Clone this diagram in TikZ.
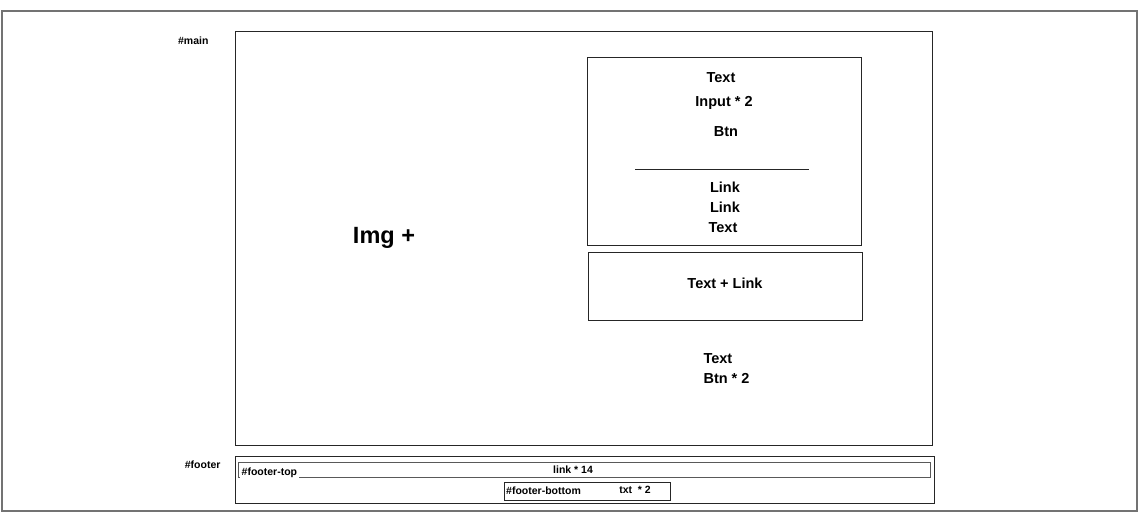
\documentclass[tikz,border=0pt]{standalone}
\usepackage{fontspec}
\setmainfont{Liberation Sans}
\begin{document}
\begin{tikzpicture}[x=1pt, y=-1pt, every node/.style={align=center, font=\bfseries\fontsize{14.5}{17}\selectfont},
    box/.style={draw=black!85, line width=0.9pt, inner sep=0pt},
    tag/.style={font=\bfseries\fontsize{10.5}{12}\selectfont}]
  \useasboundingbox (0, 0) rectangle (1147, 530);
  % Page frame
  \draw[black!55, line width=1.4pt] (2, 11) rectangle (1137, 511);

  % Main area
  \node[box, minimum width=697pt, minimum height=414pt] (main) at (583.5, 238) {};
  \node[tag, anchor=east] (mainlbl) at (212, 41) {\#main};
  \node[font=\bfseries\fontsize{23.5}{26}\selectfont] (img) at (384, 238) {Img +};

  % Login box
  \node[box, minimum width=274pt, minimum height=188pt] (login) at (724, 151) {};
  \node (ltext) at (721, 78) {Text};
  \node (linput) at (724, 103) {Input * 2};
  \node (lbtn) at (726, 132) {Btn};
  \coordinate (sepl) at (635, 169);
  \coordinate (sepr) at (809, 169);
  \draw[black!85, line width=0.8pt] (sepl) -- (sepr);
  \node (llink) at (725, 187) {Link};
  \node (llink2) at (725, 207) {Link};
  \node (ltext2) at (723, 228) {Text};

  % Sign-up box
  \node[box, minimum width=274pt, minimum height=68pt] (signup) at (725, 286) {};
  \node (stext) at (725, 283) {Text + Link};

  % Apps
  \node[anchor=west, align=left] (apps) at (700, 369) {Text\\[3pt]Btn * 2};

  % Footer
  \node[box, minimum width=699pt, minimum height=47pt] (footer) at (584.5, 479.5) {};
  \node[tag, anchor=east] (footerlbl) at (224, 465) {\#footer};
  \node[box, draw=black!65, minimum width=692pt, minimum height=15pt] (ftop) at (584, 469.5) {};
  \node[tag, anchor=base west, fill=white, inner sep=1.5pt] (ftoplbl) at (240, 475) {\#footer-top};
  \node[tag] (flinks) at (573, 470) {link * 14};
  \node[box, minimum width=166pt, minimum height=18pt] (fbottom) at (587, 491) {};
  \node[tag, anchor=west, inner sep=1pt] (fbottomlbl) at (505, 491) {\#footer-bottom};
  \node[tag] (ftxt) at (635, 490) {txt\ \ * 2};
\end{tikzpicture}
\end{document}
